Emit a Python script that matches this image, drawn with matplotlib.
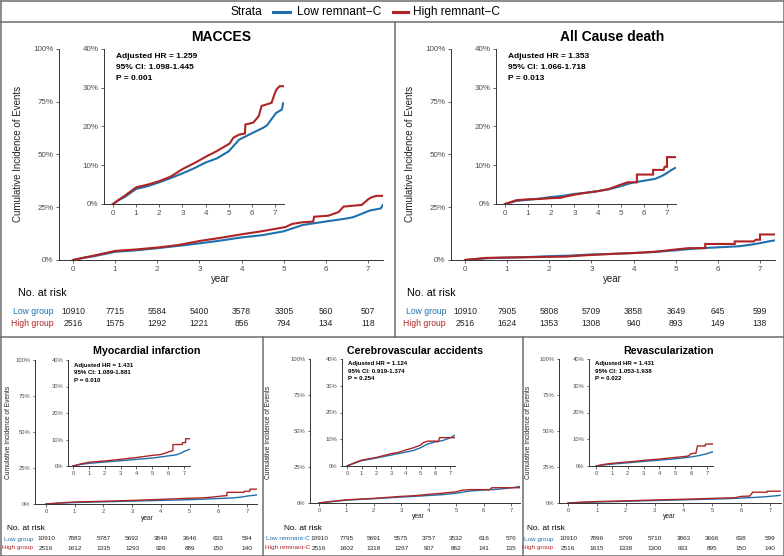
import numpy as np
import matplotlib
matplotlib.use("Agg")
import matplotlib.pyplot as plt
from matplotlib.lines import Line2D

plt.rcParams['font.family'] = ['Liberation Sans', 'DejaVu Sans']

W, H = 784, 556
BLUE = "#1F70AC"
RED = "#AE2424"
GREY = "#4D4D4D"

# ---- data (cumulative incidence, %) ----
titles = ["MACCES", "All Cause death", "Myocardial infarction",
          "Cerebrovascular accidents", "Revascularization"]

stats = [
    ("1.259", "1.098-1.445", "0.001"),
    ("1.353", "1.066-1.718", "0.013"),
    ("1.431", "1.089-1.881", "0.010"),
    ("1.124", "0.919-1.374", "0.254"),
    ("1.431", "1.053-1.938", "0.022"),
]

maccs_low_t = [0, 0.25, 0.5, 1, 1.5, 2, 2.5, 3, 3.5, 4, 4.5, 5, 5.45, 6.05, 6.5, 6.65, 7.05, 7.3, 7.35]
maccs_low_y = [0, 1.0, 1.8, 3.9, 4.6, 5.6, 6.7, 7.9, 9.2, 10.7, 11.8, 13.6, 16.6, 18.4, 19.7, 20.3, 23.5, 24.4, 26.0]
maccs_high_t = [0, 0.25, 0.5, 1, 1.5, 2, 2.5, 3.03, 3.5, 4.04, 4.47, 5.04, 5.2, 5.45, 5.7, 5.72, 6.06, 6.3, 6.42,
                6.85, 7.0, 7.07, 7.2, 7.35]
maccs_high_y = [0, 1.1, 2.1, 4.3, 5.0, 5.9, 7.1, 9.1, 10.5, 12.3, 13.6, 15.6, 17.1, 17.9, 18.2, 20.5, 21.0, 22.7, 25.3,
                26.1, 28.7, 29.6, 30.4, 30.4]

death_low_t = [0, 0.5, 1, 1.5, 2, 2.5, 3, 3.5, 4, 4.5, 5, 5.5, 6, 6.5, 6.8, 7, 7.2, 7.35]
death_low_y = [0, 0.8, 1.1, 1.4, 1.8, 2.1, 2.6, 2.9, 3.3, 3.8, 4.6, 5.5, 6.0, 6.5, 7.3, 8.0, 8.8, 9.3]
death_high_t = [0, 0.5, 1, 1.5, 2, 2.4, 2.6, 3, 3.5, 4, 4.5, 5, 5.3, 5.7, 5.7, 6.4, 6.4, 6.85, 6.9, 7.0, 7.0, 7.35]
death_high_y = [0, 1.0, 1.2, 1.3, 1.5, 1.6, 1.9, 2.4, 2.9, 3.3, 3.9, 5.0, 5.6, 5.6, 7.6, 7.6, 8.8, 8.8, 9.6, 9.6, 12.1, 12.1]

mi_low_t = [0, 0.5, 1, 2, 3, 4, 5, 5.5, 6, 6.5, 6.8, 7, 7.35]
mi_low_y = [0, 0.6, 1.0, 1.5, 2.0, 2.5, 3.0, 3.4, 3.8, 4.2, 4.8, 5.5, 6.3]
mi_high_t = [0, 0.5, 1, 2, 3, 4, 5, 5.5, 5.8, 6.1, 6.3, 6.3, 6.9, 6.9, 7.1, 7.1, 7.35]
mi_high_y = [0, 0.8, 1.4, 1.9, 2.5, 3.2, 4.0, 4.3, 4.8, 5.5, 5.8, 8.1, 8.1, 8.8, 8.8, 10.3, 10.3]

cva_low_t = [0, 0.5, 1, 1.5, 2, 3, 4, 4.5, 5, 5.5, 6, 6.5, 7, 7.35]
cva_low_y = [0, 1.0, 2.0, 2.5, 3.0, 4.1, 5.2, 5.8, 6.8, 8.3, 9.0, 9.5, 10.5, 11.6]
cva_high_t = [0, 0.5, 1, 2, 3, 3.5, 4, 4.5, 5, 5.2, 5.5, 6.1, 6.2, 6.3, 7.35]
cva_high_y = [0, 1.2, 2.2, 3.2, 4.6, 5.1, 6.0, 6.8, 7.8, 8.8, 9.3, 9.3, 9.0, 10.6, 10.6]

rev_low_t = [0, 0.5, 1, 2, 3, 4, 5, 5.5, 6, 6.5, 7, 7.35]
rev_low_y = [0, 0.4, 0.7, 1.2, 1.7, 2.2, 2.7, 3.0, 3.4, 3.9, 4.6, 5.3]
rev_high_t = [0, 0.5, 1, 2, 3, 4, 5, 5.5, 5.8, 6.0, 6.3, 6.4, 6.9, 6.9, 7.35]
rev_high_y = [0, 0.6, 1.0, 1.5, 2.1, 2.6, 3.2, 3.5, 3.7, 4.6, 4.8, 7.5, 7.5, 8.2, 8.2]

curves = [
    ((maccs_low_t, maccs_low_y), (maccs_high_t, maccs_high_y)),
    ((death_low_t, death_low_y), (death_high_t, death_high_y)),
    ((mi_low_t, mi_low_y), (mi_high_t, mi_high_y)),
    ((cva_low_t, cva_low_y), (cva_high_t, cva_high_y)),
    ((rev_low_t, rev_low_y), (rev_high_t, rev_high_y)),
]

risk_low = [
    [10910, 7715, 5584, 5400, 3578, 3305, 560, 507],
    [10910, 7905, 5808, 5709, 3858, 3649, 645, 599],
    [10910, 7883, 5787, 5692, 3849, 3646, 633, 594],
    [10910, 7795, 5691, 5575, 3757, 3532, 616, 576],
    [10910, 7896, 5799, 5710, 3863, 3666, 638, 599],
]
risk_high = [
    [2516, 1575, 1292, 1221, 856, 794, 134, 118],
    [2516, 1624, 1353, 1308, 940, 893, 149, 138],
    [2516, 1612, 1335, 1293, 926, 889, 150, 140],
    [2516, 1602, 1318, 1267, 907, 862, 141, 135],
    [2516, 1615, 1338, 1300, 933, 895, 150, 140],
]
risk_names = [("Low group", "High group")] * 3 + [("Low remnant-C", "High remnant-C")] + [("Low group", "High group")]

main_yticks = [0, 25, 50, 75, 100]
inset_yticks = [0, 10, 20, 30, 40]
years = list(range(8))

# ---- layout in pixels ----
# main: (axis left, x of year 0, x of year 7, right, top, bottom)
# inset: same
big = dict(title_fs=10, tick_fs=5.8, lab_fs=7, ann_fs=6, lw=1.5, risk_fs=6.2, nr_fs=7.7, tl=2.5)
small = dict(title_fs=7.7, tick_fs=4.2, lab_fs=4.8, ann_fs=4.4, lw=1.0, risk_fs=4.6, nr_fs=6, tl=1.8)
layout = [
    dict(main=(59, 73, 368, 383, 49, 260), inset=(104, 113, 275, 284, 49, 204), title=(221, 37),
         ylab=(18, 154), xlab=(220, 279), nr=(18, 293), rows=(312, 323), lab_r=54, **big),
    dict(main=(451, 465, 760, 775, 49, 260), inset=(496, 505, 667, 676, 49, 204), title=(612, 37),
         ylab=(410, 154), xlab=(612, 279), nr=(407, 293), rows=(312, 323), lab_r=446, **big),
    dict(main=(35, 46, 247, 257, 360, 504), inset=(68, 73, 184, 190, 360, 466), title=(147, 351),
         ylab=(9, 432), xlab=(147, 518), nr=(7, 528), rows=(539, 548), lab_r=33, **small),
    dict(main=(310, 319, 511, 520, 359, 503), inset=(342, 347, 450, 455, 359, 466), title=(415, 351),
         ylab=(269, 432), xlab=(418, 517), nr=(284, 528), rows=(539, 548), lab_r=310, **small),
    dict(main=(559, 568, 770, 781, 359, 503), inset=(589, 596, 707, 713, 359, 466), title=(669, 351),
         ylab=(529, 432), xlab=(669, 517), nr=(527, 528), rows=(539, 548), lab_r=553, **small),
]


def px_axes(fig, spec):
    left, x0, x7, right, top, bottom = spec
    ax = fig.add_axes([left / W, 1 - bottom / H, (right - left) / W, (bottom - top) / H])
    ppy = (x7 - x0) / 7.0
    ax.set_xlim((left - x0) / ppy, (right - x0) / ppy)
    ax.patch.set_alpha(0)
    for s in ("top", "right"):
        ax.spines[s].set_visible(False)
    for s in ("left", "bottom"):
        ax.spines[s].set_color("#333333")
        ax.spines[s].set_linewidth(0.7)
    return ax


def ftext(x, y, s, **kw):
    fig.text(x / W, 1 - y / H, s, **kw)


fig = plt.figure(figsize=(W / 100, H / 100), dpi=100)

for i, lay in enumerate(layout):
    (lt, ly), (ht, hy) = curves[i]
    for spec, ymax, yt in ((lay["main"], 100, main_yticks), (lay["inset"], 40, inset_yticks)):
        ax = px_axes(fig, spec)
        ax.plot(lt, ly, color=BLUE, lw=lay["lw"], solid_joinstyle="miter")
        ax.plot(ht, hy, color=RED, lw=lay["lw"], solid_joinstyle="miter")
        ax.set_ylim(0, ymax)
        ax.set_yticks(yt)
        ax.set_yticklabels([f"{v}%" for v in yt])
        ax.set_xticks(years)
        ax.tick_params(labelsize=lay["tick_fs"], colors=GREY, length=lay["tl"], width=0.6, pad=1.5)
    # annotation
    hr, ci, p = stats[i]
    ix = lay["inset"][0] + (lay["inset"][1] - lay["inset"][0]) * 0 + (12 if lay is layout[0] or lay is layout[1] else 6)
    iy = lay["inset"][4] + (8 if i < 2 else 5)
    step = 10.5 if i < 2 else 7.5
    for k, s in enumerate([f"Adjusted HR = {hr}", f"95% CI: {ci}", f"P = {p}"]):
        ftext(ix, iy + k * step, s, fontsize=lay["ann_fs"], fontweight="bold", va="center", ha="left")
    ftext(*lay["title"], titles[i], fontsize=lay["title_fs"], fontweight="bold", ha="center", va="center")
    ftext(*lay["ylab"], "Cumulative Incidence of Events", fontsize=lay["lab_fs"], rotation=90,
          ha="center", va="center", color="#222222")
    ftext(*lay["xlab"], "year", fontsize=lay["lab_fs"], ha="center", va="center", color="#222222")
    ftext(*lay["nr"], "No. at risk", fontsize=lay["nr_fs"], ha="left", va="center")
    left, x0, x7, right, top, bottom = lay["main"]
    ppy = (x7 - x0) / 7.0
    names = risk_names[i]
    for row, vals, col, nm in ((lay["rows"][0], risk_low[i], BLUE, names[0]),
                               (lay["rows"][1], risk_high[i], RED, names[1])):
        ftext(lay["lab_r"], row, nm, fontsize=lay["risk_fs"], color=col, ha="right", va="center")
        for k, v in enumerate(vals):
            ftext(x0 + k * ppy, row, str(v), fontsize=lay["risk_fs"], ha="center", va="center", color="#222222")

# ---- legend strip ----
ftext(230, 12, "Strata", fontsize=8.6, ha="left", va="center")
fig.add_artist(Line2D([273 / W, 290 / W], [1 - 12 / H] * 2, color=BLUE, lw=2.2))
ftext(297, 12, "Low remnant\u2212C", fontsize=8.6, ha="left", va="center")
fig.add_artist(Line2D([393 / W, 408 / W], [1 - 12 / H] * 2, color=RED, lw=2.2))
ftext(413, 12, "High remnant\u2212C", fontsize=8.6, ha="left", va="center")

# ---- panel frames ----
def fline(x1, y1, x2, y2):
    fig.add_artist(Line2D([x1 / W, x2 / W], [1 - y1 / H, 1 - y2 / H], color="#6E6E6E", lw=1.1))

fline(0.5, 0.5, W - 0.5, 0.5)
fline(0.5, 555.5, W - 0.5, 555.5)
fline(0.5, 0.5, 0.5, 555.5)
fline(W - 0.5, 0.5, W - 0.5, 555.5)
fline(0, 21.5, W, 21.5)
fline(395, 21.5, 395, 337)
fline(0, 337, W, 337)
fline(263, 337, 263, H)
fline(523, 337, 523, H)

fig.savefig("out.png", dpi=100)
